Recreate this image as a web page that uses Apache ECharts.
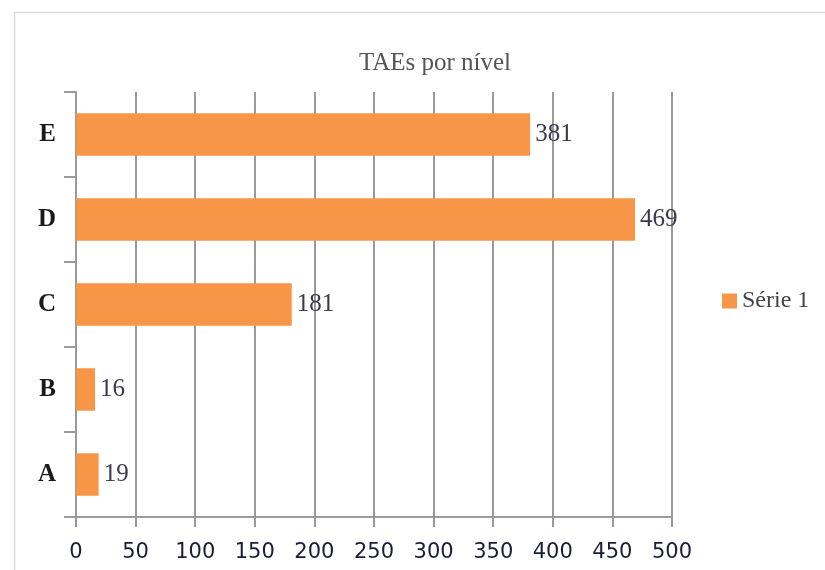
<!DOCTYPE html>
<html><head><meta charset="utf-8">
<script src="https://cdn.jsdelivr.net/npm/echarts@6/dist/echarts.min.js"></script>
<style>html,body{margin:0;padding:0;background:#fff}#c{width:825px;height:570px}</style>
</head><body><div id="c"></div>
<script>
const categories = ['A', 'B', 'C', 'D', 'E'];
const seriesName = 'Série 1';
const values = [19, 16, 181, 469, 381];
const xTicks = { min: 0, max: 500, interval: 50 };
const titleText = 'TAEs por nível';

const chart = echarts.init(document.getElementById('c'));
chart.setOption({
  animation: false,
  backgroundColor: '#fff',
  graphic: [{ type: 'rect', shape: { x: 14.5, y: 12.5, width: 900, height: 700 }, style: { fill: 'none', stroke: '#d9d9d9', lineWidth: 1.5 }, silent: true }],
  title: { text: titleText, left: 430, top: 46, textAlign: 'center', textStyle: { fontFamily: 'Liberation Serif', fontWeight: 'normal', fontSize: 25, color: '#555' } },
  legend: { data: [seriesName], orient: 'vertical', left: 717, top: 284, itemWidth: 15, itemHeight: 15, icon: 'rect', itemGap: 8, textStyle: { fontFamily: 'Liberation Serif', fontSize: 24, color: '#444' } },
  grid: { left: 76, right: 153, top: 92, bottom: 53, containLabel: false },
  xAxis: { type: 'value', min: xTicks.min, max: xTicks.max, interval: xTicks.interval,
    axisLine: { show: true, lineStyle: { color: '#9a9a9a', width: 2 } },
    axisTick: { show: true, length: 10, lineStyle: { color: '#9a9a9a', width: 2 } },
    splitLine: { show: true, lineStyle: { color: '#9a9a9a', width: 2 } },
    axisLabel: { margin: 25, fontFamily: 'DejaVu Sans', fontSize: 21, color: '#1c1c3a' } },
  yAxis: { type: 'category', data: categories,
    axisLine: { show: true, lineStyle: { color: '#9a9a9a', width: 2 } },
    axisTick: { show: true, length: 12, lineStyle: { color: '#9a9a9a', width: 2 } },
    axisLabel: { margin: 20, fontFamily: 'Liberation Serif', fontWeight: 'bold', fontSize: 25, color: '#1a1a1a' } },
  series: [{ name: seriesName, type: 'bar', data: values, barWidth: '50%',
    itemStyle: { color: '#F79646' },
    label: { show: true, position: 'right', distance: 5, fontFamily: 'Liberation Serif', fontSize: 25, color: '#3a3a4a' } }]
});
</script></body></html>
